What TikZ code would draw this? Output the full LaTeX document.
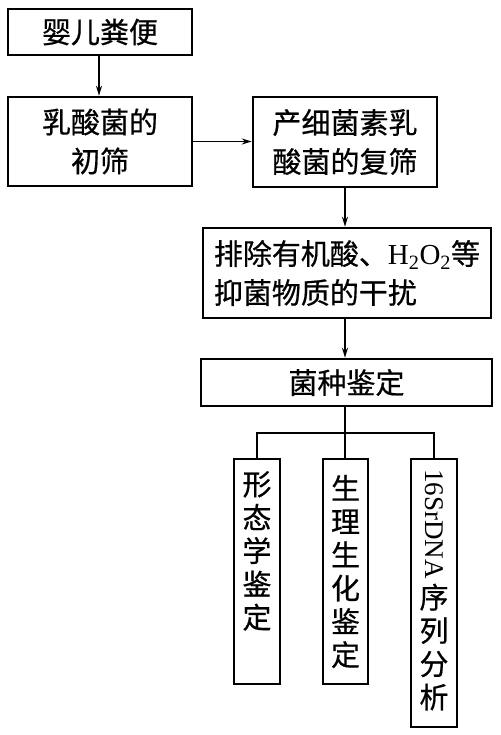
\documentclass[tikz,border=0pt]{standalone}
\usepackage{fontspec}
\setmainfont{Liberation Serif}
\newfontfamily\cjk[FakeBold=0.6]{Noto Sans CJK SC}
\usetikzlibrary{arrows.meta}
\tikzset{
  box/.style={draw, line width=2.5pt, inner sep=0pt, align=center,
    font=\cjk\fontsize{29}{39}\selectfont},
  vtxt/.style={inner sep=0pt, align=center, font=\cjk\fontsize{29}{33.3}\selectfont},
  conn/.style={line width=1.8pt},
  arr/.style={conn, -{Stealth[length=10pt,width=6pt]}}
}
\begin{document}
\begin{tikzpicture}[x=1pt,y=-1pt]
\useasboundingbox[fill=white] (0,0) rectangle (500,735);
\node[box, minimum width=184pt, minimum height=46pt] (b1) at (100,32) {婴儿粪便};
\node[box, minimum width=184pt, minimum height=89pt] (b2) at (100,141.5) {乳酸菌的\\初筛};
\node[box, minimum width=184pt, minimum height=90pt] (b3) at (345,142) {产细菌素乳\\酸菌的复筛};
\node[box, minimum width=288pt, minimum height=90pt, align=left] (b4) at (347,273) {排除有机酸、{\rmfamily H\textsubscript{2}O\textsubscript{2}}等\\抑菌物质的干扰};
\node[box, minimum width=291pt, minimum height=47pt] (b5) at (346.5,382.5) {菌种鉴定};
\node[box, minimum width=46pt, minimum height=225pt] (b6) at (257,571.5) {};
\node[box, minimum width=45pt, minimum height=225pt] (b7) at (345.5,571.5) {};
\node[box, minimum width=46pt, minimum height=268pt] (b8) at (434,593) {};
\node[vtxt, anchor=north] (t6) at (257,471) {形\\态\\学\\鉴\\定};
\node[vtxt] (t7) at (b7) {生\\理\\生\\化\\鉴\\定};
\node[vtxt, anchor=north] (t8) at (434,469) {\rotatebox{-90}{\rmfamily\fontsize{27}{27}\selectfont 16SrDNA}\\[4pt]序\\列\\分\\析};
\draw[arr] (b1.south -| 99,0) -- (b2.north -| 99,0);
\draw[arr] (b2.east) -- (b3.west |- b2.east);
\draw[arr] (b3.south -| 345,0) -- (b4.north -| 345,0);
\draw[arr] (b4.south -| 345,0) -- (b5.north -| 345,0);
\coordinate (j) at (345,433);
\draw[conn] (b5.south -| j) -- (j);
\draw[conn] (b6.north) -- (b6.north |- j) -- (b8.north |- j) -- (b8.north);
\draw[conn] (j) -- (b7.north -| j);
\end{tikzpicture}
\end{document}
